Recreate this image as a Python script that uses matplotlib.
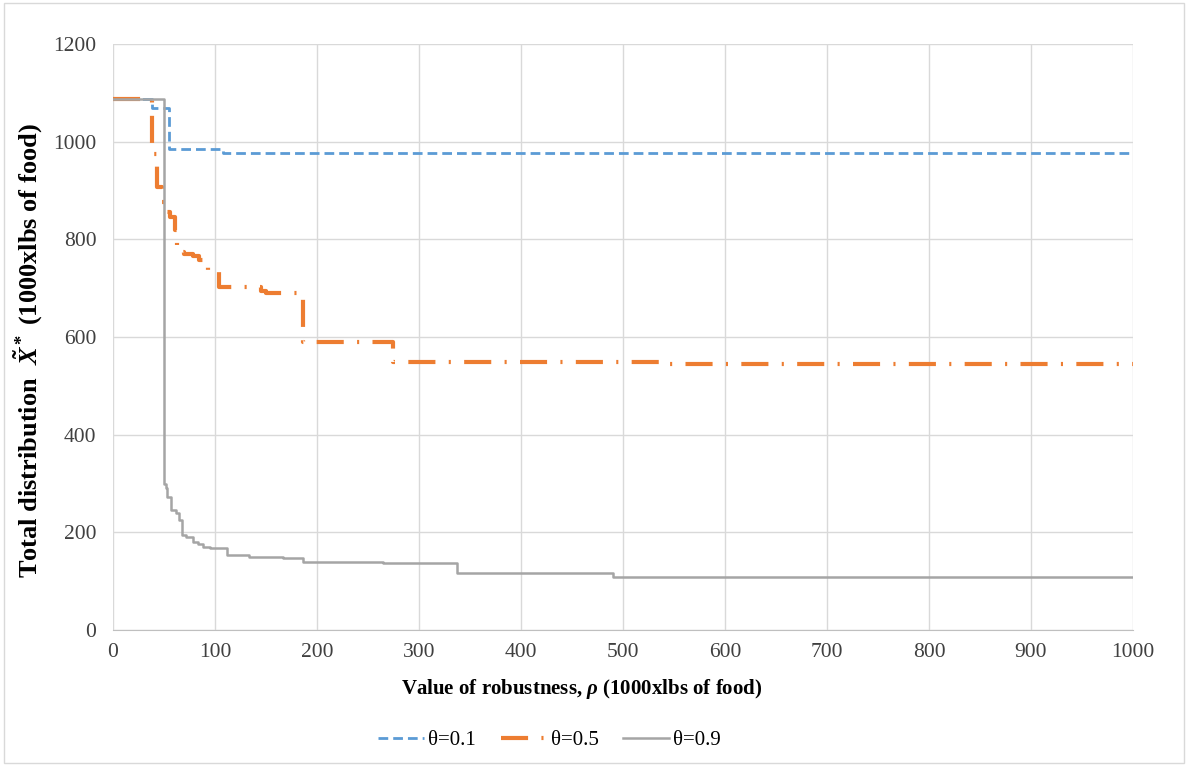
import numpy as np
import matplotlib.pyplot as plt
from matplotlib.patches import Rectangle

plt.rcParams['font.family'] = ['Liberation Serif', 'DejaVu Serif']
plt.rcParams['mathtext.fontset'] = 'custom'
plt.rcParams['mathtext.rm'] = 'Liberation Serif:bold'
plt.rcParams['mathtext.it'] = 'Liberation Serif:italic:bold'
plt.rcParams['mathtext.bf'] = 'Liberation Serif:bold'

# step data (x = rho, y = total distribution)
rho_01 = [0, 38, 55, 108, 1000]
dist_01 = [1087, 1069, 985, 977, 977]

rho_05 = [0, 38.5, 43, 48, 52, 56, 61, 63, 70, 78, 84, 93, 104, 145, 150, 186, 275, 540, 1000]
dist_05 = [1087, 975, 907, 876, 855, 845, 820, 775, 770, 765, 758, 735, 702, 695, 690, 590, 549, 544, 544]

rho_09 = [0, 50.5, 52, 53, 57, 62, 65, 68, 72, 78, 83, 88, 95, 112, 133, 167, 186, 265, 337, 490, 1000]
dist_09 = [1087, 300, 290, 272, 246, 240, 225, 195, 190, 180, 176, 170, 168, 154, 150, 147, 139, 137, 117, 108, 108]

labels = ['θ=0.1', 'θ=0.5', 'θ=0.9']
colors = ['#5b9bd5', '#ed7d31', '#a5a5a5']

fig = plt.figure(figsize=(11.88, 7.66), dpi=100)
ax = fig.add_axes([0.0951, 0.1775, 0.8586, 0.7651])

# dash lengths are in units of line width
l1, = ax.step(rho_01, dist_01, where='post', color=colors[0], lw=2.0, label=labels[0])
l1.set_dashes((3.5, 1.8))
l2, = ax.step(rho_05, dist_05, where='post', color=colors[1], lw=3.0, label=labels[1])
l2.set_dashes((6.5, 3.2, 0.5, 3.2))
l3, = ax.step(rho_09, dist_09, where='post', color=colors[2], lw=1.8, label=labels[2])

ax.set_xlim(0, 1000)
ax.set_ylim(0, 1200)
ax.set_xticks(np.arange(0, 1001, 100))
ax.set_yticks(np.arange(0, 1201, 200))
ax.grid(True, color='#d9d9d9', lw=1.0)
ax.set_axisbelow(True)
for s in ['top', 'right', 'left']:
    ax.spines[s].set_visible(False)
ax.spines['bottom'].set_color('#bfbfbf')
ax.tick_params(length=0, labelsize=15.5, colors='#404040')
ax.tick_params(axis='y', pad=12)
ax.tick_params(axis='x', pad=9)

ax.set_xlabel(r'Value of robustness, $\rho$ (1000xlbs of food)', fontsize=15,
              fontweight='bold', color='black')
ax.xaxis.set_label_coords(0.46, -0.08)
ax.set_ylabel(r'Total distribution  $\tilde{X}^*$ (1000xlbs of food)', fontsize=19,
              fontweight='bold', color='black')
ax.yaxis.set_label_coords(-0.0667, 0.476)

fig.legend(handles=[l1, l2, l3], loc='center', bbox_to_anchor=(0.4625, 1 - 740 / 766),
           ncol=3, frameon=False, fontsize=15, handlelength=2.2, handletextpad=0.2,
           columnspacing=1.2)

fig.patches.append(Rectangle((0.003, 0.004), 0.994, 0.992, transform=fig.transFigure,
                             fill=False, edgecolor='#d9d9d9', lw=1))

fig.savefig('out.png', dpi=100)
